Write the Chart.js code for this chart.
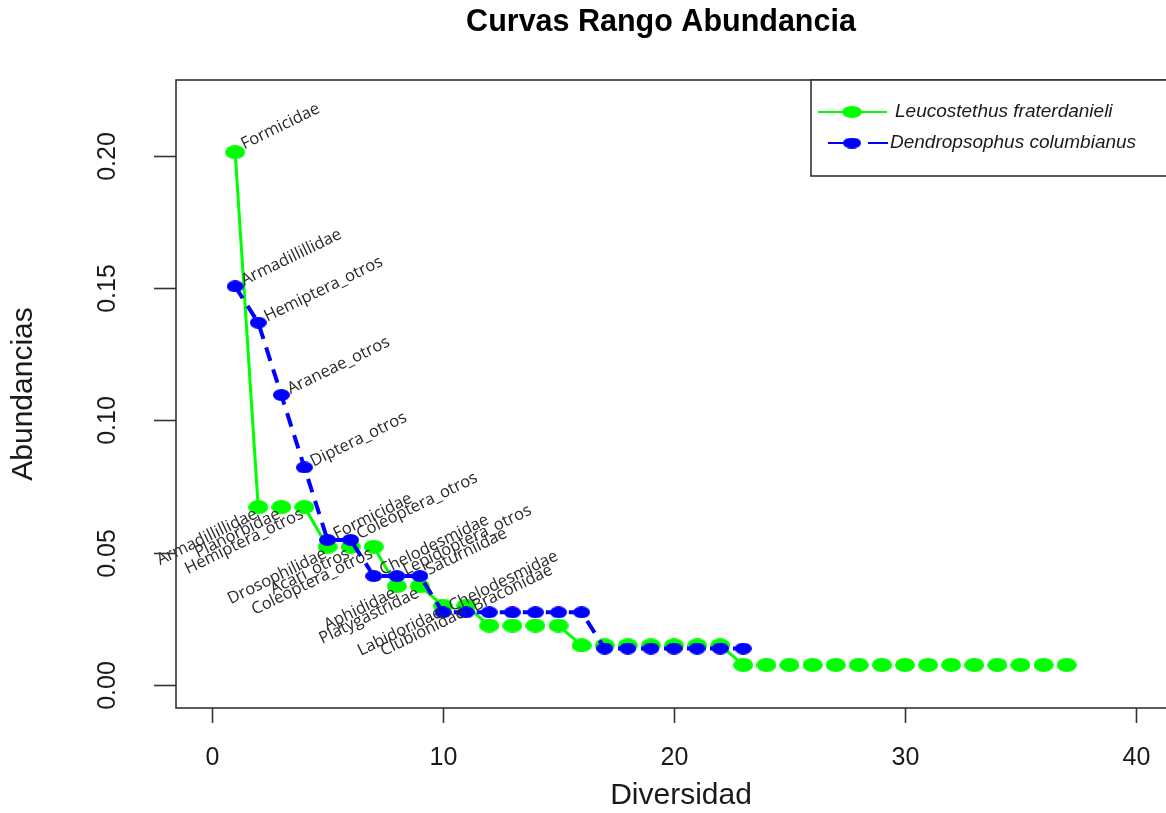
<!DOCTYPE html>
<html>
<head>
<meta charset="utf-8">
<script src="https://cdn.jsdelivr.net/npm/chart.js@4.4.1/dist/chart.umd.min.js"></script>
<style>
  body { margin: 0; background: #fff; }
  canvas { display: block; }
</style>
</head>
<body>
<canvas id="myChart" width="1166" height="813"></canvas>
<script>
// rank / abundance data
const greenName = 'Leucostethus fraterdanieli';
const blueName = 'Dendropsophus columbianus';

const greenRank = [1, 2, 3, 4, 5, 6, 7, 8, 9, 10, 11, 12, 13, 14, 15, 16, 17, 18, 19, 20,
                   21, 22, 23, 24, 25, 26, 27, 28, 29, 30, 31, 32, 33, 34, 35, 36, 37];
const greenAbund = [0.2015, 0.0672, 0.0672, 0.0672, 0.0522, 0.0522, 0.0522, 0.0373, 0.0373,
                    0.0299, 0.0299, 0.0224, 0.0224, 0.0224, 0.0224,
                    0.0149, 0.0149, 0.0149, 0.0149, 0.0149, 0.0149, 0.0149,
                    0.0075, 0.0075, 0.0075, 0.0075, 0.0075, 0.0075, 0.0075, 0.0075,
                    0.0075, 0.0075, 0.0075, 0.0075, 0.0075, 0.0075, 0.0075];
const greenLabels = ['Formicidae', 'Armadillillidae', 'Planorbidae', 'Hemiptera_otros',
                     'Drosophilidae', 'Acari_otros', 'Coleoptera_otros', 'Aphididae',
                     'Platygastridae', 'Labidoridae', 'Clubionidae'];

const blueRank = [1, 2, 3, 4, 5, 6, 7, 8, 9, 10, 11, 12, 13, 14, 15, 16, 17, 18, 19, 20, 21, 22, 23];
const blueAbund = [0.1507, 0.1370, 0.1096, 0.0822, 0.0548, 0.0548, 0.0411, 0.0411, 0.0411,
                   0.0274, 0.0274, 0.0274, 0.0274, 0.0274, 0.0274, 0.0274,
                   0.0137, 0.0137, 0.0137, 0.0137, 0.0137, 0.0137, 0.0137];
const blueLabels = ['Armadillillidae', 'Hemiptera_otros', 'Araneae_otros', 'Diptera_otros',
                    'Formicidae', 'Coleoptera_otros', 'Chelodesmidae', 'Lepidoptera_otros',
                    'Saturniidae', 'Chelodesmidae', 'Braconidae'];

const xTicks = [0, 10, 20, 30, 40];
const yTicks = [0, 0.05, 0.10, 0.15, 0.20];

function ellipseDot(w, h, color) {
    const c = document.createElement('canvas');
    c.width = w;
    c.height = h;
    const g = c.getContext('2d');
    g.fillStyle = color;
    g.beginPath();
    g.ellipse(w / 2, h / 2, w / 2, h / 2, 0, 0, Math.PI * 2);
    g.fill();
    return c;
}
const greenDot = ellipseDot(20, 14, '#00ff00');
const blueDot = ellipseDot(17, 12, '#0000ff');
const greenDotSmall = ellipseDot(20, 12, '#00ff00');
const blueDotSmall = ellipseDot(18, 11, '#0000ff');

const ANG = -26 * Math.PI / 180;

function drawLabel(ctx, text, px, py, align) {
    ctx.save();
    ctx.translate(px, py);
    ctx.rotate(ANG);
    ctx.textAlign = align;
    ctx.textBaseline = 'middle';
    ctx.fillText(text, 0, 0);
    ctx.restore();
}

const decor = {
    id: 'decor',
    afterDraw(chart) {
        const ctx = chart.ctx;
        const a = chart.chartArea;
        const xs = chart.scales.x;
        const ys = chart.scales.y;
        ctx.save();

        // point labels
        ctx.fillStyle = '#2a2a2a';
        ctx.font = '16.5px "Open Sans"';
        const gMeta = chart.getDatasetMeta(1);
        greenLabels.forEach((t, i) => {
            const p = gMeta.data[i];
            if (i === 0) drawLabel(ctx, t, p.x + 7, p.y - 7, 'left');
            else drawLabel(ctx, t, p.x - 2, p.y + 6, 'right');
        });
        const bMeta = chart.getDatasetMeta(0);
        blueLabels.forEach((t, i) => {
            const p = bMeta.data[i];
            drawLabel(ctx, t, p.x + 7, p.y - 5, 'left');
        });

        // box
        ctx.strokeStyle = '#333';
        ctx.lineWidth = 1.6;
        ctx.strokeRect(a.left, a.top, a.right - a.left + 20, a.bottom - a.top);

        // x axis
        ctx.fillStyle = '#1a1a1a';
        ctx.font = '25px "Liberation Sans"';
        ctx.textAlign = 'center';
        ctx.textBaseline = 'middle';
        xTicks.forEach(v => {
            const px = Math.round(xs.getPixelForValue(v)) + 0.5;
            ctx.beginPath();
            ctx.moveTo(px, a.bottom);
            ctx.lineTo(px, a.bottom + 15);
            ctx.stroke();
            ctx.fillText(String(v), px, a.bottom + 50);
        });

        // y axis
        yTicks.forEach(v => {
            const py = Math.round(ys.getPixelForValue(v)) + 0.5;
            ctx.beginPath();
            ctx.moveTo(a.left - 22, py);
            ctx.lineTo(a.left, py);
            ctx.stroke();
            ctx.save();
            ctx.translate(a.left - 68, py);
            ctx.rotate(-Math.PI / 2);
            ctx.fillText(v.toFixed(2), 0, 0);
            ctx.restore();
        });

        // axis titles and main title
        ctx.font = '30px "Liberation Sans"';
        ctx.fillText('Diversidad', 681, 796);
        ctx.save();
        ctx.translate(24, (a.top + a.bottom) / 2);
        ctx.rotate(-Math.PI / 2);
        ctx.fillText('Abundancias', 0, 0);
        ctx.restore();

        ctx.font = 'bold 30.5px "Liberation Sans"';
        ctx.fillStyle = '#000';
        ctx.fillText('Curvas Rango Abundancia', 661, 23);

        // legend
        ctx.fillStyle = '#fff';
        ctx.fillRect(811, a.top, 400, 96);
        ctx.strokeStyle = '#333';
        ctx.lineWidth = 1.6;
        ctx.strokeRect(811, a.top, 400, 96);

        ctx.lineWidth = 2;
        ctx.strokeStyle = '#00ff00';
        ctx.beginPath();
        ctx.moveTo(818, 112);
        ctx.lineTo(887, 112);
        ctx.stroke();
        ctx.drawImage(greenDotSmall, 852 - 10, 112 - 6);

        ctx.strokeStyle = '#0000ff';
        ctx.setLineDash([26, 14]);
        ctx.beginPath();
        ctx.moveTo(828, 143);
        ctx.lineTo(888, 143);
        ctx.stroke();
        ctx.setLineDash([]);
        ctx.drawImage(blueDotSmall, 852 - 9, 143 - 5.5);

        ctx.fillStyle = '#1a1a1a';
        ctx.font = 'italic 19px "Liberation Sans"';
        ctx.textAlign = 'left';
        ctx.fillText(greenName, 895, 112);
        ctx.fillText(blueName, 890, 143);

        ctx.restore();
    }
};

const ctx = document.getElementById('myChart');
new Chart(ctx, {
    type: 'line',
    data: {
        datasets: [{
            label: blueName,
            data: blueRank.map((r, i) => ({ x: r, y: blueAbund[i] })),
            borderColor: '#0000ff',
            backgroundColor: '#0000ff',
            borderWidth: 4,
            borderDash: [14, 9],
            pointStyle: blueDot,
            pointRadius: 8,
            tension: 0,
            order: 0
        }, {
            label: greenName,
            data: greenRank.map((r, i) => ({ x: r, y: greenAbund[i] })),
            borderColor: '#00ff00',
            backgroundColor: '#00ff00',
            borderWidth: 3,
            segment: {
                // R's type="b" gaps swallow the short flat steps
                borderColor: c => c.p0.parsed.y === c.p1.parsed.y ? 'rgba(0,0,0,0)' : undefined
            },
            pointStyle: greenDot,
            pointRadius: 10,
            tension: 0,
            order: 1
        }]
    },
    options: {
        responsive: false,
        animation: false,
        events: [],
        layout: { autoPadding: false, padding: { left: 176, right: 0, top: 80, bottom: 105 } },
        scales: {
            x: { type: 'linear', min: -1.56, max: 41.3, display: false },
            y: { type: 'linear', min: -0.0088, max: 0.2288, display: false }
        },
        plugins: {
            legend: { display: false },
            title: { display: false },
            tooltip: { enabled: false }
        }
    },
    plugins: [decor]
});
</script>
</body>
</html>
